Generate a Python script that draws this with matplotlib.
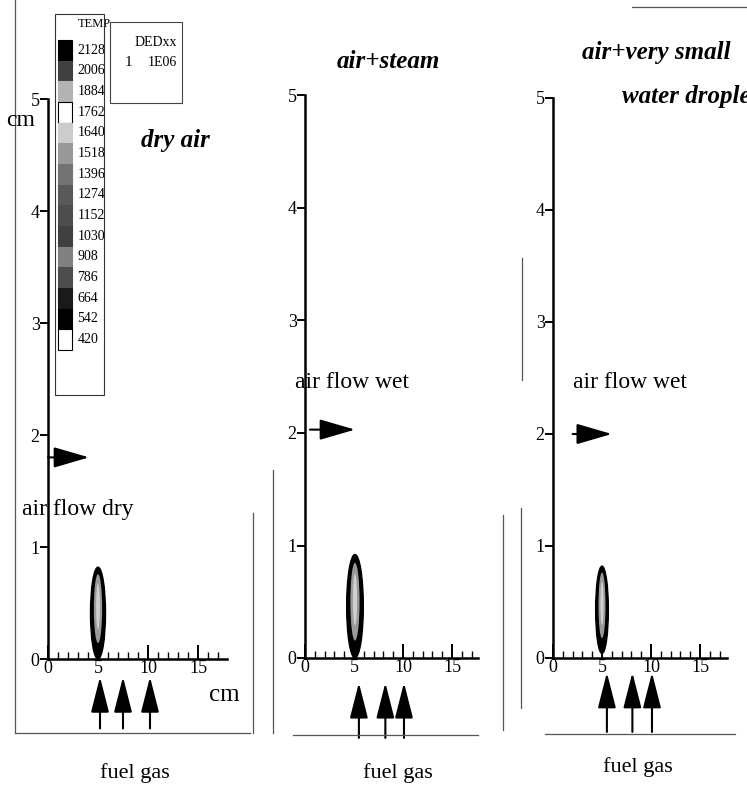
import matplotlib
matplotlib.use('Agg')
import matplotlib.pyplot as plt
from matplotlib.patches import Ellipse, Rectangle
from matplotlib.lines import Line2D

plt.rcParams['font.family'] = ['Liberation Serif', 'DejaVu Serif']

W, H = 747, 789

# --- data ---
panel_titles = ['dry air', 'air+steam', 'air+very small\nwater droplets']
flow_labels = ['air flow dry', 'air flow wet', 'air flow wet']

# flame shape in each panel (cm)
flame_x = [5.0, 5.1, 5.0]
flame_y = [0.41, 0.46, 0.43]
flame_h = [0.82, 0.92, 0.78]
flame_w = [1.5, 1.7, 1.3]

# fuel gas inlets (cm)
fuel_x = [[5.2, 7.5, 10.2], [5.5, 8.2, 10.1], [5.5, 8.1, 10.1]]
fuel_tip = [-0.16, -0.22, -0.13]
fuel_tail = [-0.62, -0.71, -0.66]

# air inlet arrow (cm)
air_y = [1.8, 2.03, 2.0]
air_x0 = [0.0, 0.5, 2.0]
air_x1 = [4.1, 5.1, 6.0]

# temperature legend
temp_levels = [2128, 2006, 1884, 1762, 1640, 1518, 1396, 1274, 1152,
               1030, 908, 786, 664, 542, 420]
temp_grey = [0.0, 0.25, 0.7, 1.0, 0.8, 0.6, 0.45, 0.35, 0.3,
             0.25, 0.5, 0.3, 0.1, 0.0, 1.0]

x_ticks = [0, 5, 10, 15]
y_ticks = [0, 1, 2, 3, 4, 5]

# panel placement: origin px, px per cm (x, y), x extent
panels = [(48, 659, 10.0, 112.0, 17.9),
          (305, 658, 9.8, 112.5, 17.7),
          (553, 658, 9.8, 112.0, 17.8)]


def fx(x):
    return x / W


def fy(y):
    return 1 - y / H


fig = plt.figure(figsize=(W / 100, H / 100), dpi=100)

for i, (x0, y0, sx, sy, xmax) in enumerate(panels):
    ax = fig.add_axes([fx(x0), fy(y0), xmax * sx / W, 5 * sy / H])
    ax.set_xlim(0, xmax)
    ax.set_ylim(0, 5)
    ax.patch.set_visible(False)
    for s in ['top', 'right']:
        ax.spines[s].set_visible(False)
    ax.spines['left'].set_linewidth(1.8)
    ax.spines['bottom'].set_linewidth(1.8)
    ax.set_xticks(x_ticks)
    ax.set_xticks(range(0, 18), minor=True)
    ax.set_yticks(y_ticks)
    ax.tick_params(axis='x', which='major', direction='in', length=10, width=1.4,
                   labelsize=13, pad=1)
    ax.tick_params(axis='x', which='minor', direction='in', length=5, width=1.0)
    ax.tick_params(axis='y', which='major', direction='out', length=6, width=1.4,
                   labelsize=13, pad=0)

    # flame
    ax.add_patch(Ellipse((flame_x[i], flame_y[i]), flame_w[i], flame_h[i],
                         fc='black', ec='black', lw=1))
    ax.add_patch(Ellipse((flame_x[i], flame_y[i] + 0.04), flame_w[i] * 0.55,
                         flame_h[i] * 0.75, fc='#9a9a9a', ec='none'))
    ax.add_patch(Ellipse((flame_x[i], flame_y[i] + 0.06), flame_w[i] * 0.25,
                         flame_h[i] * 0.5, fc='#cfcfcf', ec='none'))

    # fuel gas arrows
    for xf in fuel_x[i]:
        ax.annotate('', xy=(xf, fuel_tip[i]), xytext=(xf, fuel_tail[i]),
                    arrowprops=dict(arrowstyle='-|>,head_length=1.1,head_width=0.28',
                                    mutation_scale=20, lw=1.5, color='black',
                                    shrinkA=0, shrinkB=0),
                    annotation_clip=False)

    # air arrow
    ax.annotate('', xy=(air_x1[i], air_y[i]), xytext=(air_x0[i], air_y[i]),
                arrowprops=dict(arrowstyle='-|>,head_length=1.1,head_width=0.32',
                                mutation_scale=20, lw=1.5, color='black',
                                shrinkA=0, shrinkB=0),
                annotation_clip=False)

# labels
tf = dict(fontsize=18, fontweight='bold', fontstyle='italic')
fig.text(fx(175), fy(140), panel_titles[0], ha='center', va='center', **tf)
fig.text(fx(388), fy(62), panel_titles[1], ha='center', va='center', **tf)
t3 = panel_titles[2].split('\n')
fig.text(fx(582), fy(52), t3[0], ha='left', va='center', **tf)
fig.text(fx(622), fy(97), t3[1], ha='left', va='center', **tf)

fig.text(fx(22), fy(510), flow_labels[0], ha='left', va='center', fontsize=17)
fig.text(fx(295), fy(383), flow_labels[1], ha='left', va='center', fontsize=17)
fig.text(fx(573), fy(383), flow_labels[2], ha='left', va='center', fontsize=17)

for xc, yc in [(135, 773), (398, 773), (638, 767)]:
    fig.text(fx(xc), fy(yc), 'fuel gas', ha='center', va='center', fontsize=16)

fig.text(fx(21), fy(121), 'cm', ha='center', va='center', fontsize=17)
fig.text(fx(224), fy(695), 'cm', ha='center', va='center', fontsize=18)

# temperature colour legend
n = len(temp_levels)
cax = fig.add_axes([fx(58), fy(350), 14 / W, 310 / H])
for k, (lvl, g) in enumerate(zip(temp_levels, temp_grey)):
    yb = n - 1 - k
    cax.bar(0, 1, bottom=yb, width=1, color=str(g),
            edgecolor='black' if g > 0.95 else str(g), lw=0.8, clip_on=False)
    cax.text(0.9, yb + 0.5, str(lvl), ha='left', va='center', fontsize=10,
             clip_on=False)
cax.text(0.9, n + 0.75, 'TEMP', ha='left', va='center', fontsize=9, clip_on=False)
cax.set_xlim(-0.5, 0.5)
cax.set_ylim(0, n)
cax.axis('off')

fig.add_artist(Rectangle((fx(55), fy(395)), 49 / W, 381 / H, transform=fig.transFigure,
                         fill=False, lw=0.8, ec='#333333'))
fig.add_artist(Rectangle((fx(110), fy(103)), 72 / W, 81 / H, transform=fig.transFigure,
                         fill=False, lw=0.8, ec='#444444'))
fig.text(fx(177), fy(42), 'DEDxx', ha='right', va='center', fontsize=10)
fig.text(fx(128), fy(63), '1', ha='center', va='center', fontsize=11)
fig.text(fx(177), fy(63), '1E06', ha='right', va='center', fontsize=10)

# scanned page frame lines
frame = [((15, 0), (15, 733)), ((15, 733), (250, 733)), ((253, 513), (253, 733)),
         ((273, 470), (273, 733)), ((293, 735), (478, 735)), ((503, 515), (503, 730)),
         ((522, 258), (522, 380)), ((521, 508), (521, 708)), ((545, 734), (735, 734)),
         ((632, 7), (747, 7))]
for (xa, ya), (xb, yb) in frame:
    fig.add_artist(Line2D([fx(xa), fx(xb)], [fy(ya), fy(yb)], transform=fig.transFigure,
                          lw=0.9, color='#555555'))

fig.savefig('out.png', dpi=100)
